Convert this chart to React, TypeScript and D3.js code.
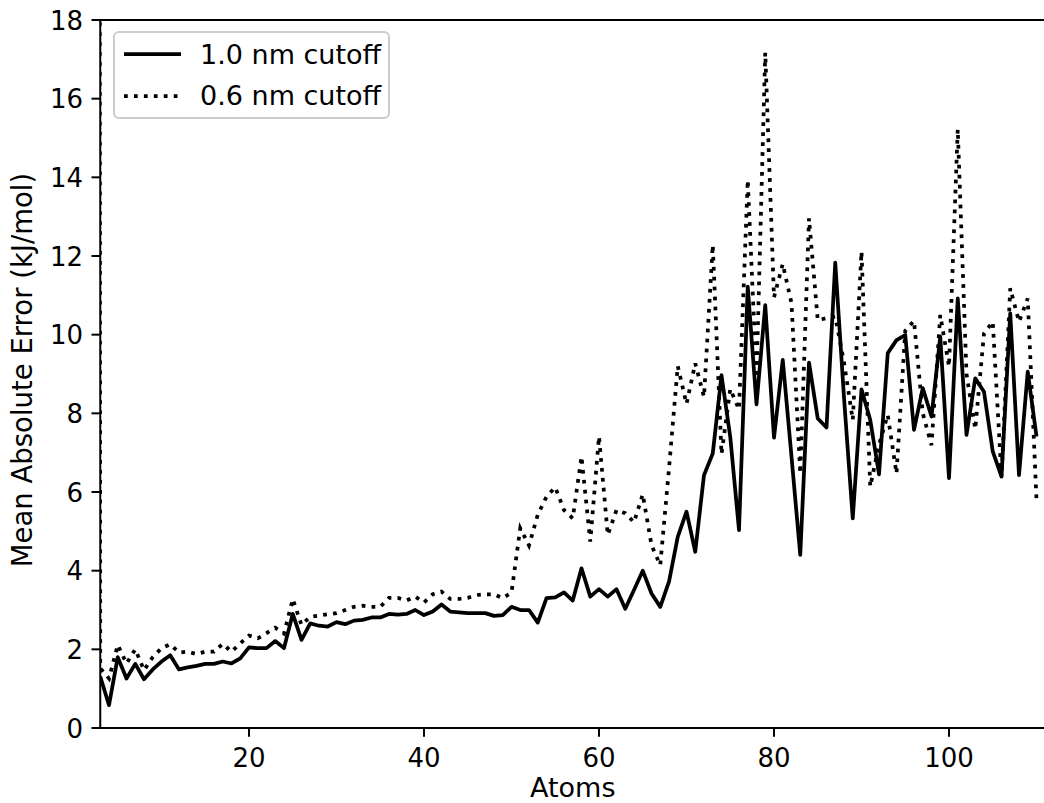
import * as d3 from "d3"

// atoms in the molecule (x)
const atoms = [
  3, 4, 5, 6, 7, 8, 9, 10, 11, 12, 13, 14, 15, 16, 17, 18, 19, 20,
  21, 22, 23, 24, 25, 26, 27, 28, 29, 30, 31, 32, 33, 34, 35, 36, 37, 38,
  39, 40, 41, 42, 43, 44, 45, 46, 47, 48, 49, 50, 51, 52, 53, 54, 55, 56,
  57, 58, 59, 60, 61, 62, 63, 64, 65, 66, 67, 68, 69, 70, 71, 72, 73, 74,
  75, 76, 77, 78, 79, 80, 81, 82, 83, 84, 85, 86, 87, 88, 89, 90, 91, 92,
  93, 94, 95, 96, 97, 98, 99, 100, 101, 102, 103, 104, 105, 106, 107, 108, 109, 110,
]

// mean absolute error, kJ/mol — 1.0 nm cutoff
const mae10 = [
  1.31, 0.58, 1.8, 1.26, 1.63, 1.24, 1.49, 1.69, 1.85, 1.49, 1.54, 1.58, 1.63, 1.63, 1.69, 1.64, 1.77, 2.05,
  2.03, 2.03, 2.21, 2.03, 2.9, 2.24, 2.66, 2.6, 2.58, 2.69, 2.64, 2.73, 2.75, 2.81, 2.81, 2.9, 2.88, 2.9,
  3.0, 2.87, 2.96, 3.14, 2.96, 2.94, 2.92, 2.92, 2.92, 2.85, 2.87, 3.08, 3.0, 3.0, 2.68, 3.3, 3.32, 3.45,
  3.24, 4.06, 3.34, 3.53, 3.34, 3.53, 3.03, 3.51, 4.0, 3.42, 3.08, 3.72, 4.86, 5.5, 4.48, 6.43, 6.98, 8.97,
  7.4, 5.03, 11.22, 8.23, 10.75, 7.38, 9.36, 6.9, 4.4, 9.29, 7.87, 7.64, 11.83, 8.4, 5.33, 8.61, 7.83, 6.45,
  9.53, 9.86, 9.99, 7.58, 8.64, 7.92, 9.95, 6.35, 10.92, 7.45, 8.89, 8.55, 7.03, 6.39, 10.54, 6.43, 9.06, 7.41,
]

// mean absolute error, kJ/mol — 0.6 nm cutoff
const mae06 = [
  1.52, 1.26, 2.11, 1.64, 2.0, 1.47, 1.8, 2.03, 2.13, 1.92, 1.94, 1.88, 1.94, 1.94, 2.14, 1.94, 2.15, 2.35,
  2.28, 2.41, 2.55, 2.4, 3.28, 2.62, 2.83, 2.86, 2.89, 2.92, 3.0, 3.08, 3.11, 3.08, 3.08, 3.31, 3.31, 3.24,
  3.34, 3.19, 3.4, 3.47, 3.28, 3.28, 3.31, 3.38, 3.4, 3.4, 3.3, 3.44, 5.08, 4.64, 5.42, 5.88, 6.12, 5.54,
  5.33, 6.9, 4.74, 7.41, 4.91, 5.54, 5.46, 5.23, 5.94, 4.65, 4.14, 6.6, 9.2, 8.24, 9.27, 8.42, 12.28, 6.96,
  8.62, 8.1, 13.93, 8.9, 17.17, 10.95, 11.8, 10.8, 6.47, 12.96, 10.37, 10.42, 10.46, 9.3, 7.83, 12.11, 6.14, 7.2,
  7.96, 6.47, 10.1, 10.35, 8.0, 7.19, 10.5, 9.19, 15.22, 9.0, 7.6, 10.03, 10.33, 6.39, 11.18, 10.33, 10.92, 5.8,
]

// the 0.6 nm run also has a point left of the axis, far above the top
const lead06 = { atoms: 2, mae: 300 }

const xTicks = [20, 40, 60, 80, 100]
const yTicks = [0, 2, 4, 6, 8, 10, 12, 14, 16, 18]

const FONT = "DejaVu Sans"

export default function App() {
  const width = 1044
  const height = 803
  const plot = { left: 100.25, right: 1045.25, top: 20, bottom: 728 }

  const x = d3.scaleLinear().domain([3, 111]).range([plot.left, plot.right])
  const y = d3.scaleLinear().domain([0, 18]).range([plot.bottom, plot.top])

  const pts10: [number, number][] = atoms.map((a, i) => [a, mae10[i]])
  const pts06: [number, number][] = [[lead06.atoms, lead06.mae], ...atoms.map((a, i) => [a, mae06[i]] as [number, number])]

  const line = d3.line<[number, number]>()
    .x(d => x(d[0]))
    .y(d => y(d[1]))

  return (
    <svg
      width={width}
      height={height}
      style={{ position: "fixed", left: 0, top: 0, background: "#fff" }}
      fontFamily={FONT}
    >
      <defs>
        <clipPath id="plot-clip">
          <rect x={plot.left} y={plot.top} width={plot.right - plot.left} height={plot.bottom - plot.top} />
        </clipPath>
      </defs>
      <rect x={0} y={0} width={width} height={height} fill="#fff" />

      <g clipPath="url(#plot-clip)">
        <path d={line(pts10) ?? ""} fill="none" stroke="#000" strokeWidth={3.75} strokeLinejoin="round" />
        <path d={line(pts06) ?? ""} fill="none" stroke="#000" strokeWidth={3.75} strokeDasharray="3.75 6.2" />
      </g>

      {/* spines */}
      <g stroke="#000" strokeWidth={2} strokeLinecap="square">
        <line x1={plot.left} x2={plot.left} y1={plot.top} y2={plot.bottom} />
        <line x1={plot.left} x2={plot.right} y1={plot.bottom} y2={plot.bottom} />
        <line x1={plot.left} x2={plot.right} y1={plot.top} y2={plot.top} />
        <line x1={plot.right} x2={plot.right} y1={plot.top} y2={plot.bottom} />
      </g>

      {/* x axis */}
      {xTicks.map(t => (
        <g key={"x" + t}>
          <line x1={x(t)} x2={x(t)} y1={plot.bottom} y2={plot.bottom + 8.75} stroke="#000" strokeWidth={2} />
          <text x={x(t)} y={767} textAnchor="middle" fontSize={26}>{t}</text>
        </g>
      ))}
      <text x={(plot.left + plot.right) / 2} y={797} textAnchor="middle" fontSize={27}>Atoms</text>

      {/* y axis */}
      {yTicks.map(t => (
        <g key={"y" + t}>
          <line x1={plot.left - 8.75} x2={plot.left} y1={y(t)} y2={y(t)} stroke="#000" strokeWidth={2} />
          <text x={83} y={y(t) + 9.5} textAnchor="end" fontSize={26}>{t}</text>
        </g>
      ))}
      <text
        transform={`translate(32, ${(plot.top + plot.bottom) / 2 - 4}) rotate(-90)`}
        textAnchor="middle"
        fontSize={27.5}
      >
        Mean Absolute Error (kJ/mol)
      </text>

      {/* legend */}
      <g>
        <rect x={114} y={32} width={275} height={86} rx={5} fill="#fff" fillOpacity={0.8} stroke="#cccccc" strokeWidth={2} />
        <line x1={124} x2={181} y1={54} y2={54} stroke="#000" strokeWidth={3.75} />
        <text x={200} y={64} fontSize={27}>1.0 nm cutoff</text>
        <line x1={124} x2={181} y1={96} y2={96} stroke="#000" strokeWidth={3.75} strokeDasharray="3.75 6.2" />
        <text x={200} y={105} fontSize={27}>0.6 nm cutoff</text>
      </g>
    </svg>
  )
}
